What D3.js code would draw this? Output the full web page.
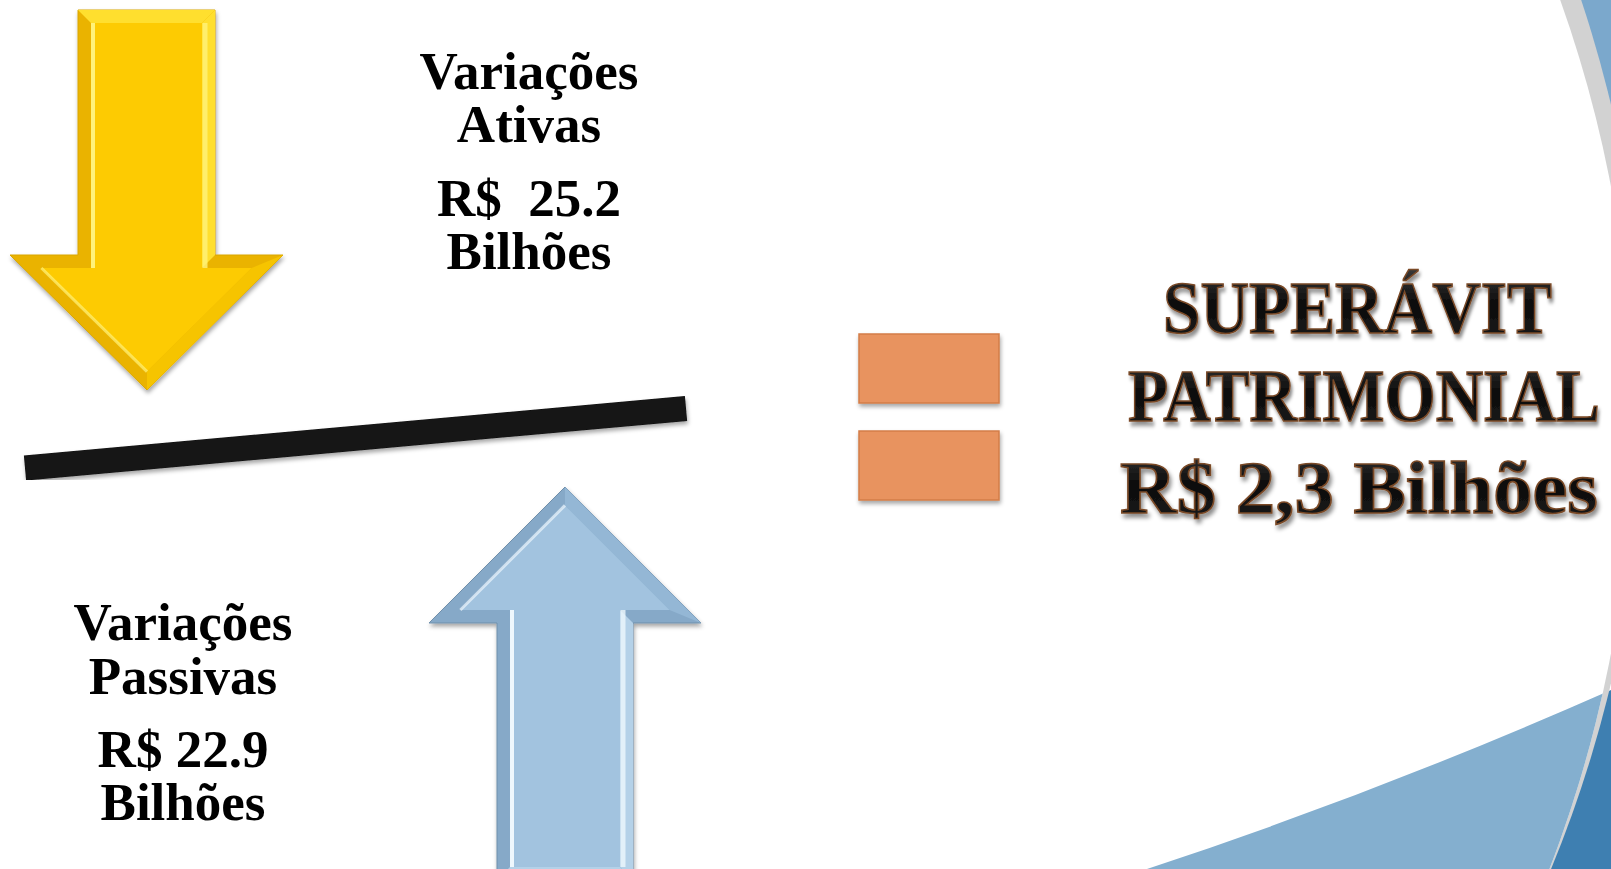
<html>
<head>
<meta charset="utf-8">
<script src="https://d3js.org/d3.v7.min.js"></script>
<style>
  body { margin: 0; background: #fff; }
  svg text { white-space: pre; }
</style>
</head>
<body>
<script>

// valores (R$ bilhoes)
var categorias = ["Variações Ativas", "Variações Passivas"];
var valores = [25.2, 22.9];
var resultado = ["SUPERÁVIT", "PATRIMONIAL"];
var saldo = [2.3];

var width = 1611, height = 869;

var svg = d3.select("body").append("svg")
  .attr("width", width)
  .attr("height", height);

var defs = svg.append("defs");

function shadow(id, dx, dy, sd, op) {
  defs.append("filter").attr("id", id)
    .attr("x", "-20%").attr("y", "-20%").attr("width", "140%").attr("height", "140%")
    .append("feDropShadow")
    .attr("dx", dx).attr("dy", dy).attr("stdDeviation", sd)
    .attr("flood-color", "#000").attr("flood-opacity", op);
}
shadow("sombra", 1, 3, 2, 0.35);
shadow("sombraTxt", 2, 4, 2, 0.45);

var brilho = defs.append("linearGradient").attr("id", "brilho")
  .attr("x1", 0).attr("y1", 0).attr("x2", 0).attr("y2", 1);
brilho.append("stop").attr("offset", "0%").attr("stop-color", "#3a3a3a");
brilho.append("stop").attr("offset", "45%").attr("stop-color", "#0c0c0c");
brilho.append("stop").attr("offset", "100%").attr("stop-color", "#1c1c1c");

// ---- fundo (tema do slide) ----
var cx = 385, cy = 420, r = 1248;
var curva = "M1147,869 Q1379,792.5 1611,690 L1611,869 Z";

svg.append("rect").attr("x", 1300).attr("y", 0).attr("width", 311).attr("height", 600)
  .attr("fill", "#7ba8cc");
svg.append("path").attr("d", curva).attr("fill", "#3e7fb1");
svg.append("circle").attr("cx", cx + 12).attr("cy", cy - 26).attr("r", r).attr("fill", "#d2d2d2");
svg.append("circle").attr("cx", cx).attr("cy", cy).attr("r", r).attr("fill", "#fff");
defs.append("clipPath").attr("id", "dentro")
  .append("circle").attr("cx", cx).attr("cy", cy).attr("r", r);
svg.append("path").attr("d", curva).attr("fill", "#84afcf").attr("clip-path", "url(#dentro)");

// ---- setas ----
// s = +1 para baixo, -1 para cima
function seta(a) {
  var s = a.s, b = a.b, k = b * (1 + Math.SQRT2);
  var outer = [[a.x0, a.y0], [a.x1, a.y0], [a.x1, a.yh], [a.hx1, a.yh], [a.tx, a.ty],
               [a.hx0, a.yh], [a.x0, a.yh]];
  var inner = [[a.x0 + b, a.y0 + s * b], [a.x1 - b, a.y0 + s * b], [a.x1 - b, a.yh + s * b],
               [a.hx1 - k, a.yh + s * b], [a.tx, a.ty - s * b * Math.SQRT2],
               [a.hx0 + k, a.yh + s * b], [a.x0 + b, a.yh + s * b]];
  var g = svg.append("g");
  var line = d3.line();
  g.append("path").attr("d", line(outer) + "Z")
    .attr("fill", a.escuro).attr("stroke", a.borda).attr("stroke-width", 1)
    .attr("filter", "url(#sombra)");
  // faces claras do chanfro
  g.append("path").attr("d", line([outer[1], outer[2], inner[2], inner[1]]) + "Z").attr("fill", a.claro);
  g.append("path").attr("d", line([outer[0], outer[1], inner[1], inner[0]]) + "Z").attr("fill", a.claro);
  g.append("path").attr("d", line([outer[3], outer[4], inner[4], inner[3]]) + "Z").attr("fill", a.medio);
  g.append("path").attr("d", line(inner) + "Z").attr("fill", a.cor);
  // realces
  g.append("path").attr("d", line([[inner[0][0] + 2, inner[0][1]], [inner[6][0] + 2, inner[6][1]]]))
    .attr("stroke", a.realce).attr("stroke-width", 4).attr("fill", "none");
  g.append("path").attr("d", line([[inner[1][0] + 3, inner[1][1]], [inner[2][0] + 3, inner[2][1]]]))
    .attr("stroke", a.realce).attr("stroke-width", 5).attr("fill", "none").attr("opacity", 0.8);
  g.append("path").attr("d", line([inner[5], inner[4]]))
    .attr("stroke", a.realce).attr("stroke-width", 3).attr("fill", "none").attr("opacity", 0.7);
}

seta({ s: 1, b: 13, x0: 78, x1: 215, y0: 10, yh: 255, hx0: 10, hx1: 283, tx: 147, ty: 390,
  cor: "#fdcb02", escuro: "#eab300", medio: "#f6c400", claro: "#ffdf2e", borda: "#d9a600", realce: "#fff27a" });

seta({ s: -1, b: 13, x0: 497, x1: 633, y0: 880, yh: 623, hx0: 429, hx1: 701, tx: 565, ty: 487,
  cor: "#a2c3df", escuro: "#86a9c8", medio: "#94b7d5", claro: "#b4d1e8", borda: "#6f8fab", realce: "#eef7fd" });

// ---- barra (balanca) ----
svg.append("line")
  .attr("x1", 25).attr("y1", 468).attr("x2", 686).attr("y2", 408.5)
  .attr("stroke", "#121212").attr("stroke-width", 25)
  .attr("filter", "url(#sombra)");

// ---- sinal de igual ----
svg.selectAll("rect.igual")
  .data([334, 431])
  .enter().append("rect")
  .attr("class", "igual")
  .attr("x", 859).attr("y", function(d) { return d; })
  .attr("width", 140).attr("height", 69)
  .attr("fill", "#e8935f").attr("stroke", "#d37d48").attr("stroke-width", 1.5)
  .attr("filter", "url(#sombra)");

// ---- textos ----
var fmt = d3.format(".1f");
var blocos = [
  { x: 529, ys: [89, 142, 216, 269],
    linhas: [categorias[0].split(" ")[0], categorias[0].split(" ")[1], "R$  " + fmt(valores[0]), "Bilhões"] },
  { x: 183, ys: [640, 694, 767, 820],
    linhas: [categorias[1].split(" ")[0], categorias[1].split(" ")[1], "R$ " + fmt(valores[1]), "Bilhões"] }
];

blocos.forEach(function(b) {
  svg.append("g").selectAll("text")
    .data(b.linhas)
    .enter().append("text")
    .attr("x", b.x)
    .attr("y", function(d, i) { return b.ys[i]; })
    .attr("text-anchor", "middle")
    .style("font-family", "'Liberation Serif', serif")
    .style("font-weight", "bold")
    .style("font-size", "53px")
    .attr("fill", "#000")
    .text(function(d) { return d; });
});

var destaque = [
  { t: resultado[0], x: 1163, y: 333, w: 389 },
  { t: resultado[1], x: 1128, y: 421, w: 472 },
  { t: "R$ " + fmt(saldo[0]).replace(".", ",") + " Bilhões", x: 1120, y: 513, w: 478 }
];

svg.append("g").selectAll("text")
  .data(destaque)
  .enter().append("text")
  .style("font-family", "'Liberation Serif', serif")
  .style("font-weight", "bold")
  .style("font-size", "74px")
  .attr("fill", "url(#brilho)")
  .attr("stroke", "#7a4a28")
  .attr("stroke-width", 1.6)
  .attr("filter", "url(#sombraTxt)")
  .text(function(d) { return d.t; })
  .attr("transform", function(d) {
    var sx = d.w / this.getComputedTextLength();
    return "translate(" + d.x + "," + d.y + ") scale(" + sx + ",1)";
  });

</script>
</body>
</html>
